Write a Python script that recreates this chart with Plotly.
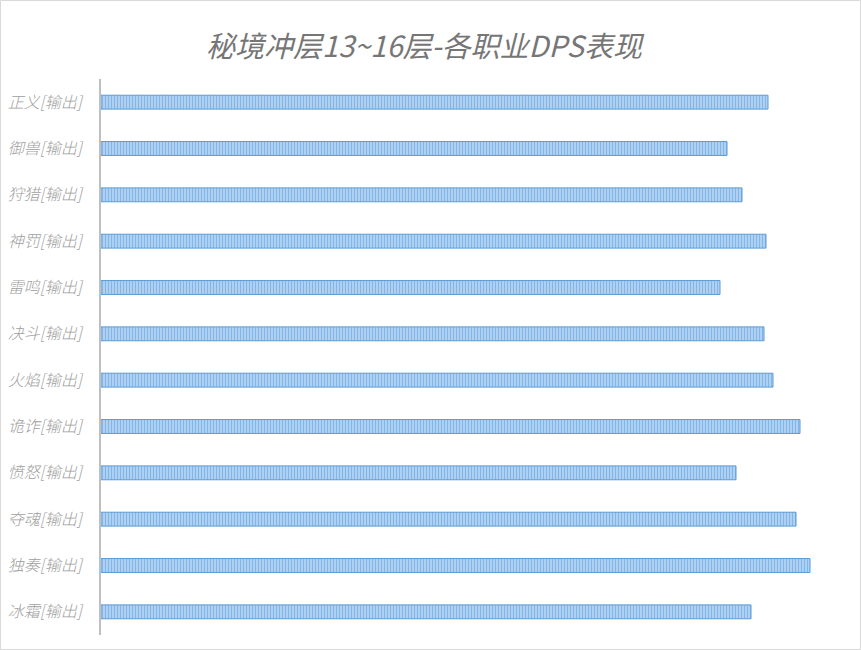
import plotly.graph_objects as go

categories = ["正义[输出]", "御兽[输出]", "狩猎[输出]", "神罚[输出]", "雷鸣[输出]", "决斗[输出]",
              "火焰[输出]", "诡诈[输出]", "愤怒[输出]", "夺魂[输出]", "独奏[输出]", "冰霜[输出]"]
dps = [667, 626, 641, 665, 619, 663, 672, 699, 635, 695, 709, 650]
title_text = "秘境冲层13~16层-各职业DPS表现"

W, H = 861, 650
L, R, T, B = 101, 21, 79, 15
pw = W - L - R
ph = H - T - B

fig = go.Figure(go.Bar(
    y=categories, x=dps, orientation="h",
    width=0.3,
    marker=dict(
        color="#A9CDEF",
        line=dict(color="#5B9BD5", width=1),
        pattern=dict(shape="|", fgcolor="#4A90D9", bgcolor="#BCDAF6", size=3, solidity=0.5),
    ),
    hoverinfo="x+y",
))

fig.update_layout(
    width=W, height=H,
    margin=dict(l=L, r=R, t=T, b=B, autoexpand=False),
    paper_bgcolor="white", plot_bgcolor="white",
    showlegend=False,
    title=dict(text="<i>" + title_text + "</i>", x=424 / W, xref="container", xanchor="center",
               y=1 - 47 / H, yanchor="middle",
               font=dict(family="Noto Sans CJK SC", size=29, color="#767676")),
    xaxis=dict(range=[0, pw], visible=False, showgrid=False, zeroline=False, automargin=False),
    yaxis=dict(autorange="reversed", showline=True, linecolor="#BFBFBF", linewidth=2,
               ticks="", ticklabelstandoff=14, automargin=False,
               tickfont=dict(family="Noto Sans CJK SC", size=16, color="#A0A0A0", weight=300),
               showgrid=False),
    font=dict(family="Noto Sans CJK SC"),
    shapes=[dict(type="rect", xref="paper", yref="paper",
                 x0=(-L + 0.5) / pw, x1=(W - L - 0.5) / pw,
                 y0=(-B + 0.5) / ph, y1=(H - B - 0.5) / ph,
                 line=dict(color="#D9D9D9", width=1), layer="below")],
)
fig.update_yaxes(tickmode="array", tickvals=categories, ticktext=["<i>" + c + "</i>" for c in categories])

fig.write_html("out.html", config={"displayModeBar": False},
               post_script="document.body.style.margin='0';document.body.style.overflow='hidden';")
